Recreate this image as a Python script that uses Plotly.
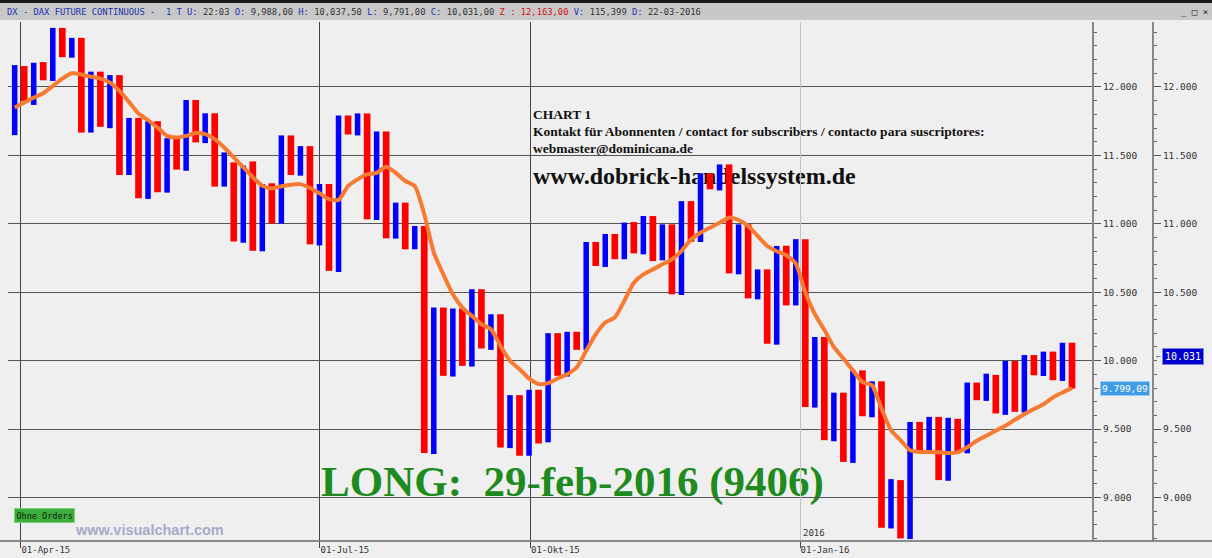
import plotly.graph_objects as go

# ---------------- data ----------------
bar_high = [12160, 12153, 12177, 12182, 12432, 12432, 12359, 12359, 12112, 12112,
            12087, 12087, 11774, 11774, 11750, 11750, 11626, 11626, 11905, 11905,
            11808, 11808, 11522, 11449, 11425, 11456, 11291, 11296, 11646, 11646,
            11568, 11568, 11291, 11291, 11792, 11792, 11807, 11807, 11675, 11675,
            11155, 11155, 10984, 10984, 10388, 10388, 10381, 10381, 10522, 10522,
            10339, 10339, 9748, 9748, 9787, 9787, 10201, 10201, 10211, 10211,
            10867, 10867, 10926, 10926, 11009, 11013, 11057, 11057, 10996, 10996,
            11166, 11166, 11369, 11369, 11434, 11434, 10996, 10996, 10667, 10667,
            10838, 10840, 10888, 10888, 10173, 10173, 9766, 9766, 9929, 9929,
            9849, 9849, 9134, 9127, 9552, 9552, 9589, 9589, 9582, 9575,
            9840, 9840, 9905, 9896, 9998, 9998, 10041, 10041, 10066, 10066,
            10131, 10131]
bar_low = [11648, 11898, 11869, 12049, 12044, 12218, 12214, 11667, 11667, 11709,
           11699, 11357, 11357, 11187, 11182, 11231, 11228, 11396, 11388, 11595,
           11590, 11272, 11272, 10871, 10862, 10803, 10799, 11002, 11002, 11357,
           11352, 10850, 10842, 10656, 10648, 11653, 11646, 11033, 11028, 10894,
           10892, 10814, 10814, 9325, 9318, 9889, 9884, 9962, 9957, 10089,
           10079, 9366, 9361, 9305, 9305, 9395, 9403, 9889, 9884, 10079,
           10079, 10692, 10685, 10741, 10741, 10784, 10777, 10728, 10733, 10485,
           10480, 10869, 10867, 11252, 11244, 10638, 10631, 10455, 10448, 10124,
           10117, 10404, 10404, 9662, 9657, 9419, 9411, 9260, 9253, 9594,
           9586, 8779, 8774, 8701, 8696, 9346, 9341, 9127, 9122, 9330,
           9323, 9711, 9706, 9614, 9604, 9626, 9621, 9893, 9888, 9857,
           9852, 9796]
ma_values = [11850, 11886, 11922, 11954, 12007, 12061, 12100, 12092, 12075, 12061,
             12032, 11971, 11891, 11806, 11757, 11704, 11643, 11631, 11643, 11663,
             11655, 11619, 11558, 11485, 11413, 11340, 11279, 11260, 11274, 11286,
             11290, 11262, 11223, 11180, 11175, 11276, 11325, 11361, 11373, 11417,
             11373, 11313, 11276, 11070, 10790, 10631, 10485, 10388, 10327, 10266,
             10230, 10108, 9999, 9938, 9870, 9829, 9836, 9870, 9901, 9950,
             10072, 10193, 10279, 10315, 10437, 10570, 10631, 10667, 10704, 10740,
             10801, 10886, 10935, 10972, 11008, 11045, 11028, 10984, 10911, 10838,
             10800, 10770, 10710, 10500, 10341, 10225, 10100, 10015, 9929, 9844,
             9820, 9650, 9492, 9419, 9346, 9333, 9333, 9330, 9325, 9330,
             9367, 9415, 9451, 9488, 9524, 9568, 9609, 9646, 9682, 9731,
             9767, 9799.09]

date_tick_text = ["01-Apr-15", "01-Jul-15", "01-Okt-15"]
date_tick_pos = [0.66, 32.05, 54.15]          # bar-index positions
year_tick_text = ["01-Jan-16"]
year_tick_pos = [82.45]

price_ticks = [9000, 9500, 10000, 10500, 11000, 11500, 12000, 12500]
price_ticks_right = [9000, 9500, 10500, 11000, 11500, 12000, 12500]  # 10.000 hidden by the close box

last_close = 10031
header_info = [("DX - DAX FUTURE CONTINUOUS -  1 T U:", "22:03"), ("O:", "9,988,00"),
               ("H:", "10,037,50"), ("L:", "9,791,00"), ("C:", "10,031,00"),
               ("Z :", "12,163,00"), ("V:", "115,399"), ("D:", "22-03-2016")]

# ---------------- geometry ----------------
W, H = 1212, 558
ML, MR, MT, MB = 8, 50, 22, 17
PW, PH = W - ML - MR, H - MT - MB


def px(xp):
    return (xp - ML) / PW


def py(yp):
    return (H - MB - yp) / PH


XR = [-0.70, 113.1]
YR = [8682, 12475]
MONO = "DejaVu Sans Mono"
SERIF = "Liberation Serif"

idx = list(range(len(bar_high)))
blue_i = idx[0::2]
red_i = idx[1::2]

fig = go.Figure()
fig.add_trace(go.Bar(x=blue_i, base=[bar_low[i] for i in blue_i],
                     y=[bar_high[i] - bar_low[i] for i in blue_i],
                     width=0.58, marker=dict(color="#0000FF", line=dict(width=0)),
                     hoverinfo="skip", showlegend=False))
fig.add_trace(go.Bar(x=red_i, base=[bar_low[i] for i in red_i],
                     y=[bar_high[i] - bar_low[i] for i in red_i],
                     width=0.70, marker=dict(color="#FF0000", line=dict(width=0)),
                     hoverinfo="skip", showlegend=False))
fig.add_trace(go.Scatter(x=idx, y=ma_values, mode="lines",
                         line=dict(color="#F77A30", width=4, shape="spline", smoothing=0.6),
                         hoverinfo="skip", showlegend=False))
# dummies to activate the secondary axes
fig.add_trace(go.Scatter(x=[None], y=[None], xaxis="x2", yaxis="y", showlegend=False, hoverinfo="skip"))
fig.add_trace(go.Scatter(x=[None], y=[None], xaxis="x", yaxis="y2", showlegend=False, hoverinfo="skip"))

tickfont = dict(family=MONO, size=9.5, color="#333333")
xtickfont = dict(family=MONO, size=9, color="#333333")
xdom = [0, px(1092)]

yax = dict(range=YR, side="right", tickformat=",d",
           ticks="outside", ticklen=7, tickcolor="#555555", tickwidth=1,
           showline=True, linecolor="#8A8A8A", linewidth=2, zeroline=False,
           tickfont=tickfont, fixedrange=True,
           minor=dict(tick0=0, dtick=100, ticks="outside", ticklen=3,
                      tickcolor="#666666", showgrid=False))

fig.update_layout(
    width=W, height=H, template="none",
    margin=dict(l=ML, r=MR, t=MT, b=MB, autoexpand=False),
    paper_bgcolor="#EFEFEF", plot_bgcolor="rgba(0,0,0,0)",
    separators=",.", barmode="overlay", showlegend=False,
    xaxis=dict(domain=xdom, range=XR, tickvals=date_tick_pos, ticktext=date_tick_text,
               ticks="outside", ticklen=6, tickcolor="#444444", showgrid=True,
               gridcolor="#444444", gridwidth=1, zeroline=False, showline=False,
               tickfont=xtickfont, ticklabelposition="outside right", fixedrange=True),
    xaxis2=dict(overlaying="x", anchor="y", side="bottom", range=XR,
                tickvals=year_tick_pos, ticktext=year_tick_text,
                ticks="outside", ticklen=6, tickcolor="#444444", showgrid=True,
                gridcolor="#C4C4C4", gridwidth=1, zeroline=False, showline=False,
                tickfont=xtickfont, ticklabelposition="outside right", fixedrange=True),
    yaxis=dict(anchor="x", showgrid=True, gridcolor="#555555", gridwidth=1,
               tickvals=price_ticks, **yax),
    yaxis2=dict(overlaying="y", anchor="free", position=px(1153), showgrid=False,
                tickvals=price_ticks_right, **yax),
)

shapes = []


def text_shape(text, xl, yc, size, color, family=SERIF, weight="bold"):
    shapes.append(dict(type="rect", xref="paper", yref="paper", layer="below",
                       x0=px(xl), x1=px(xl + 4), y0=py(yc + 2), y1=py(yc - 2),
                       line=dict(width=0), fillcolor="rgba(0,0,0,0)",
                       label=dict(text=text, textposition="middle left", padding=0,
                                  font=dict(family=family, size=size, color=color,
                                            weight=weight))))


text_shape("CHART 1", 530, 113, 13.5, "#111111")
text_shape("Kontakt für Abonnenten / contact for subscribers / contacto para suscriptores:",
           530, 130, 13.5, "#111111")
text_shape("webmaster@dominicana.de", 530, 147, 13.5, "#111111")
text_shape("www.dobrick-handelssystem.de", 530, 173, 24, "#111111")
text_shape("LONG:\u00a0 29-feb-2016 (9406)", 318, 477, 43, "#1E8B1E")

# header bar
shapes.append(dict(type="rect", xref="paper", yref="paper", layer="above",
                   x0=px(0), x1=px(W), y0=py(20), y1=py(0),
                   fillcolor="#C8C8C8", line=dict(width=0)))
shapes.append(dict(type="rect", xref="paper", yref="paper", layer="above",
                   x0=px(0), x1=px(W), y0=py(3), y1=py(0),
                   fillcolor="#1A1A1A", line=dict(width=0)))
# bottom axis line across full width
shapes.append(dict(type="line", xref="paper", yref="paper", layer="above",
                   x0=px(0), x1=px(W), y0=0, y1=0,
                   line=dict(color="#6A6A6A", width=1.5)))
fig.update_layout(shapes=shapes)

annotations = []
# header text
parts = []
for lab, val in header_info:
    lc = "#D01010" if lab.startswith("Z") else "#2030B0"
    vc = "#D01010" if lab.startswith("Z") else "#333333"
    parts.append(f"<span style='color:{lc}'>{lab}</span> <span style='color:{vc}'>{val}</span>")
annotations.append(dict(text=" ".join(parts), xref="paper", yref="paper",
                        x=px(5), y=py(12), xanchor="left", yanchor="middle",
                        showarrow=False, font=dict(family=MONO, size=8.8, color="#333333")))
annotations.append(dict(text="_ □ ×", xref="paper", yref="paper", x=px(1210), y=py(12),
                        xanchor="right", yanchor="middle", showarrow=False,
                        font=dict(family=MONO, size=9, color="#222222")))
# value labels on the right axes
ma_last = ma_values[-1]
ma_txt = f"{ma_last:,.2f}".replace(",", "X").replace(".", ",").replace("X", ".")
close_txt = f"{last_close:,d}".replace(",", ".")
annotations.append(dict(text=ma_txt, xref="paper", yref="y", x=px(1100), y=ma_last,
                        xanchor="left", yanchor="middle", showarrow=False,
                        bgcolor="#3F9BE6", bordercolor="#9CCBF2", borderwidth=1, borderpad=1,
                        font=dict(family=MONO, size=9.5, color="#FFFFFF")))
annotations.append(dict(text="←", xref="paper", yref="y", x=px(1093), y=ma_last,
                        xanchor="left", yanchor="middle", showarrow=False,
                        font=dict(family=MONO, size=8, color="#666666")))
annotations.append(dict(text=close_txt, xref="paper", yref="y", x=px(1162), y=last_close,
                        xanchor="left", yanchor="middle", showarrow=False,
                        bgcolor="#0000CC", bordercolor="#8080E0", borderwidth=1, borderpad=2,
                        font=dict(family=MONO, size=10, color="#FFFFFF")))
annotations.append(dict(text="←", xref="paper", yref="y", x=px(1154), y=last_close,
                        xanchor="left", yanchor="middle", showarrow=False,
                        font=dict(family=MONO, size=8, color="#666666")))
# small labels
annotations.append(dict(text="2016", xref="paper", yref="paper", x=px(801), y=py(533),
                        xanchor="left", yanchor="middle", showarrow=False,
                        font=dict(family=MONO, size=9, color="#333333")))
annotations.append(dict(text="Ohne Orders", xref="paper", yref="paper", x=px(14), y=py(515.5),
                        xanchor="left", yanchor="middle", showarrow=False,
                        bgcolor="#3CAE3C", bordercolor="#7ACF7A", borderwidth=1, borderpad=1.5,
                        font=dict(family=MONO, size=8.5, color="#102010")))
annotations.append(dict(text="<b>www.visualchart.com</b>", xref="paper", yref="paper",
                        x=px(73), y=py(530), xanchor="left", yanchor="middle", showarrow=False,
                        font=dict(family="Liberation Sans", size=14.5, color="#A4ABCA")))
fig.update_layout(annotations=annotations)

fig.write_html("out.html")
